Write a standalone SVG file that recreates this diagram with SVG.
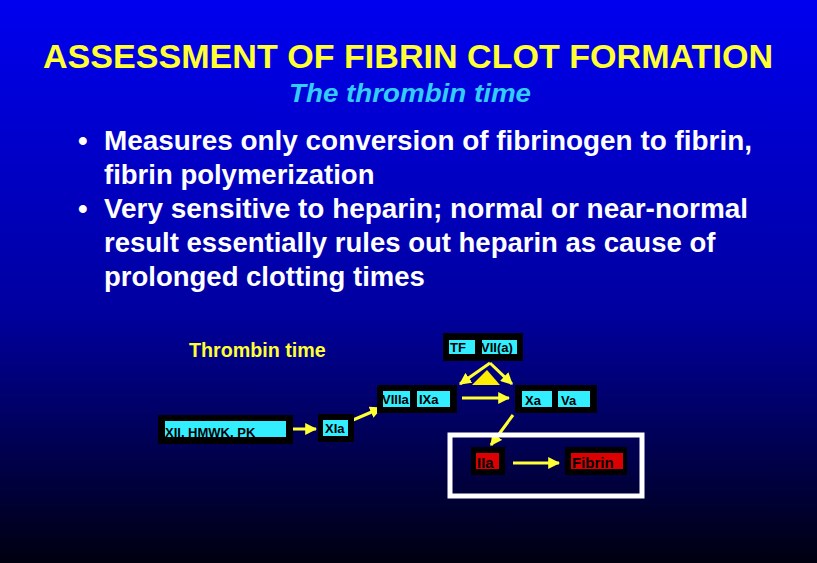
<svg xmlns="http://www.w3.org/2000/svg" width="817" height="563" viewBox="0 0 817 563">
<defs>
<linearGradient id="bg" x1="0" y1="0" x2="0" y2="1"><stop offset="0" stop-color="#0000f0"/><stop offset="0.55" stop-color="#0000a0"/><stop offset="1" stop-color="#000010"/></linearGradient>
<marker id="ah" viewBox="0 0 10 10" refX="9" refY="5" markerWidth="4" markerHeight="4" orient="auto"><path d="M0,0 L10,5 L0,10 z" fill="#ffff33"/></marker>
<style>
text{font-family:"Liberation Sans",Arial,sans-serif;font-weight:bold}
.blk{fill:#000}
.cy{fill:#33eeff}
.rd{fill:#dd0000}
.lb{font-size:13px;fill:#000}
.lr{font-size:15px;fill:#000}
.ar{stroke:#ffff33;stroke-width:3;fill:none;marker-end:url(#ah)}
.bl{fill:#fff;font-size:27.5px}
</style>
</defs>
<rect width="817" height="563" fill="url(#bg)"/>
<text x="408" y="68" text-anchor="middle" font-size="34" fill="#ffff33" textLength="730" lengthAdjust="spacingAndGlyphs">ASSESSMENT OF FIBRIN CLOT FORMATION</text>
<text x="410" y="102" text-anchor="middle" font-size="26" font-style="italic" fill="#33ccff" textLength="242" lengthAdjust="spacingAndGlyphs">The thrombin time</text>
<text class="bl" x="78" y="150">•</text><text class="bl" x="104" y="150" textLength="648" lengthAdjust="spacingAndGlyphs">Measures only conversion of fibrinogen to fibrin,</text>
<text class="bl" x="104" y="184">fibrin polymerization</text>
<text class="bl" x="78" y="218">•</text><text class="bl" x="104" y="218" textLength="644" lengthAdjust="spacingAndGlyphs">Very sensitive to heparin; normal or near-normal</text>
<text class="bl" x="104" y="252">result essentially rules out heparin as cause of</text>
<text class="bl" x="104" y="286">prolonged clotting times</text>
<text x="189" y="357" font-size="19.7" fill="#ffff33">Thrombin time</text>
<g id="connectors">
<path class="ar" d="M490,363 L460,384"/>
<path class="ar" d="M490,363 L512,384"/>
<path class="ar" d="M462,398 L509,398"/>
<path class="ar" d="M353,420 L381,408"/>
<path class="ar" d="M292,429 L316,429"/>
<path class="ar" d="M513,415 L491,445"/>
<path class="ar" d="M513,463 L559,463"/>
</g>
<polygon points="472,385 500,385 487,370" fill="#ffee00"/>
<g id="tf"><rect class="blk" x="443" y="333" width="80" height="28"/><rect class="cy" x="449" y="340" width="26" height="14"/><rect class="cy" x="482" y="340" width="35" height="14"/><text class="lb" x="450" y="352" font-size="12">TF</text><text class="lb" x="481" y="352" font-size="12">VII(a)</text></g>
<g id="viiia"><rect class="blk" x="377" y="385" width="80" height="28"/><rect class="cy" x="383" y="391" width="27" height="16"/><rect class="cy" x="417" y="391" width="33" height="16"/><text class="lb" x="382" y="404">VIIIa</text><text class="lb" x="419" y="404">IXa</text></g>
<g id="xa"><rect class="blk" x="515" y="385" width="82" height="28"/><rect class="cy" x="522" y="391" width="30" height="16"/><rect class="cy" x="558" y="391" width="32" height="16"/><text class="lb" x="525" y="405">Xa</text><text class="lb" x="561" y="405">Va</text></g>
<g id="xii"><rect class="blk" x="158" y="415" width="135" height="29"/><rect class="cy" x="165" y="421" width="121" height="16"/><text class="lb" x="165" y="437">XII, HMWK, PK</text></g>
<g id="xia"><rect class="blk" x="318" y="414" width="36" height="28"/><rect class="cy" x="323" y="420" width="25" height="16"/><text class="lb" x="325" y="433">XIa</text></g>
<rect x="450" y="435" width="192" height="61" fill="none" stroke="#fff" stroke-width="5"/>
<g id="iia"><rect class="blk" x="471" y="447" width="34" height="28"/><rect class="rd" x="476" y="453" width="23" height="16"/><text class="lr" x="477" y="468" font-size="17">IIa</text></g>
<g id="fibrin"><rect class="blk" x="565" y="447" width="62" height="28"/><rect class="rd" x="571" y="453" width="52" height="16"/><text class="lr" x="572" y="468" font-size="16">Fibrin</text></g>
</svg>
